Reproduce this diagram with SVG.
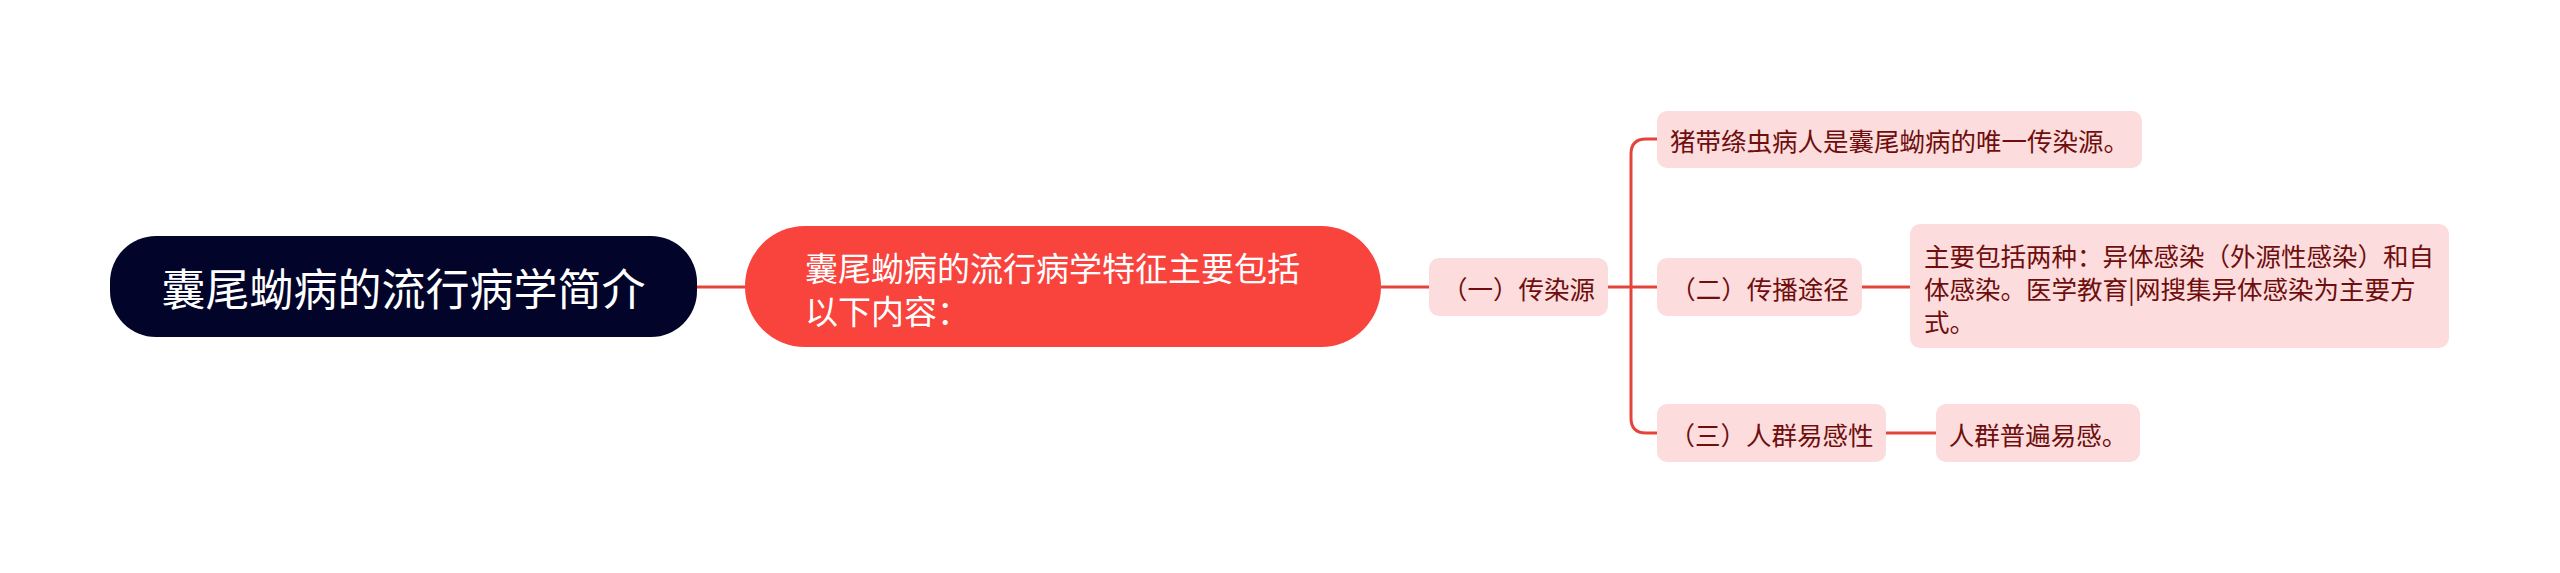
<svg xmlns="http://www.w3.org/2000/svg" width="2560" height="573" viewBox="0 0 2560 573">
<style>
.t{font-family:"Noto Sans CJK SC","Noto Sans",sans-serif;dominant-baseline:central}
.sub rect{fill:#FCDCDC}
.sub text{fill:#6E0E0E;font-size:25.5px}
.c{fill:none;stroke:#E5443D;stroke-width:3}
</style>
<rect width="2560" height="573" fill="#FFFFFF"/>
<g id="connectors">
<path class="c" d="M697,287 H745"/>
<path class="c" d="M1381,287 H1429"/>
<path class="c" d="M1608,287 H1657"/>
<path class="c" d="M1631,287 V154 Q1631,139 1646,139 H1657"/>
<path class="c" d="M1631,287 V418 Q1631,433 1646,433 H1657"/>
<path class="c" d="M1862,287 H1910"/>
<path class="c" d="M1886,433 H1936"/>
</g>
<g id="root">
<rect x="110" y="236" width="587" height="101" rx="46" fill="#020529"/>
<text class="t" x="403.5" y="287" font-size="44" fill="#FFFFFF" text-anchor="middle">囊尾蚴病的流行病学简介</text>
</g>
<g id="main">
<rect x="745" y="226" width="636" height="121" rx="60" fill="#F9433D"/>
<text class="t" font-size="33" fill="#FFFFFF"><tspan x="805" y="267">囊尾蚴病的流行病学特征主要包括</tspan><tspan x="805" y="310">以下内容：</tspan></text>
</g>
<g id="n1" class="sub">
<rect x="1429" y="258" width="179" height="58" rx="10"/>
<text class="t" x="1518.5" y="287" text-anchor="middle">（一）传染源</text>
</g>
<g id="n1a" class="sub">
<rect x="1657" y="111" width="485" height="57" rx="10"/>
<text class="t" x="1899.5" y="139.5" text-anchor="middle">猪带绦虫病人是囊尾蚴病的唯一传染源。</text>
</g>
<g id="n2" class="sub">
<rect x="1657" y="258" width="205" height="58" rx="10"/>
<text class="t" x="1759.5" y="287" text-anchor="middle">（二）传播途径</text>
</g>
<g id="n2a" class="sub">
<rect x="1910" y="224" width="539" height="124" rx="10"/>
<text class="t"><tspan x="1924" y="254">主要包括两种：异体感染（外源性感染）和自</tspan><tspan x="1924" y="287">体感染。医学教育|网搜集异体感染为主要方</tspan><tspan x="1924" y="320">式。</tspan></text>
</g>
<g id="n3" class="sub">
<rect x="1657" y="404" width="229" height="58" rx="10"/>
<text class="t" x="1771.5" y="433" text-anchor="middle">（三）人群易感性</text>
</g>
<g id="n3a" class="sub">
<rect x="1936" y="404" width="204" height="58" rx="10"/>
<text class="t" x="2038" y="433" text-anchor="middle">人群普遍易感。</text>
</g>
</svg>
